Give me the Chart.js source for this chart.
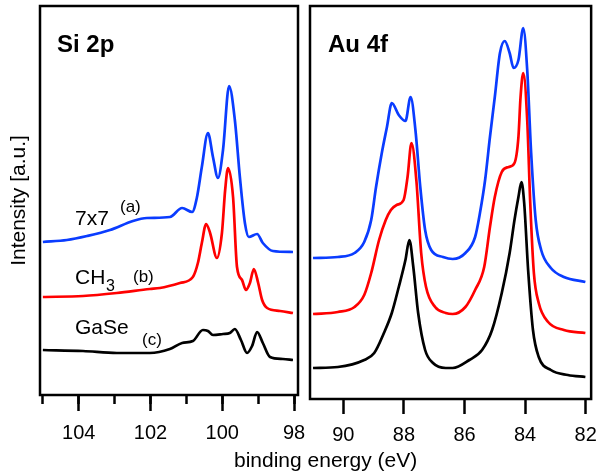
<!DOCTYPE html>
<html>
<head>
<meta charset="utf-8">
<script src="https://cdn.jsdelivr.net/npm/chart.js@4"></script>
<style>
  html, body { margin: 0; padding: 0; background: #ffffff; }
  #wrap { position: relative; width: 606px; height: 472px; }
  canvas { position: absolute; left: 0; top: 0; }
</style>
</head>
<body>
<div id="wrap">
  <canvas id="si" width="606" height="472"></canvas>
  <canvas id="au" width="606" height="472"></canvas>
</div>
<script>
// ---------- Si 2p panel (binding energy in eV, intensity in a.u.) ----------
const siEnergy7x7 = [105.00,104.33,103.77,103.13,102.49,102.10,101.46,101.12,100.84,100.71,100.57,100.40,100.26,100.12,99.98,99.81,99.65,99.51,99.37,99.26,99.03,98.87,98.59,98.03];
const si7x7       = [153,155,159,165,174,177,178,187,183,197,228,262,238,217,245,309,275,218,172,158,161,152,144,143];

const siEnergyCH3 = [105.00,103.88,102.94,102.02,101.74,101.18,100.82,100.68,100.57,100.45,100.34,100.15,100.01,99.92,99.84,99.70,99.59,99.45,99.34,99.23,99.12,99.00,98.89,98.75,98.39,98.03];
const siCH3       = [98,99,102,106,107,112,118,132,152,171,162,137,162,205,227,198,128,115,105,112,126,112,95,87,84,82];

const siEnergyGaSe = [105.00,103.88,102.94,102.02,101.46,101.12,100.82,100.54,100.40,100.26,99.98,99.79,99.65,99.48,99.31,99.17,99.03,98.87,98.67,98.31,98.03];
const siGaSe       = [45,44,42,42,46,52,54,65,64,60,61,62,66,55,42,49,63,52,38,36,35];

// ---------- Au 4f panel ----------
const auEnergy7x7 = [91.00,90.18,89.63,89.31,89.08,88.92,88.73,88.56,88.40,88.17,87.95,87.78,87.62,87.46,87.30,87.10,86.71,86.39,85.97,85.65,85.49,85.32,85.16,85.00,84.83,84.67,84.51,84.38,84.22,84.06,83.93,83.80,83.65,83.47,83.15,82.72,82.01];
const au7x7       = [141,142,146,157,179,212,246,272,296,284,278,302,269,212,169,149,142,140,146,162,186,219,262,302,346,358,346,331,339,371,329,246,179,149,131,122,117];

const auEnergyCH3 = [91.00,90.18,89.63,89.31,89.08,88.82,88.60,88.43,88.24,88.01,87.88,87.75,87.59,87.43,87.27,86.97,86.62,86.39,85.97,85.65,85.35,85.16,85.00,84.77,84.54,84.35,84.22,84.15,84.06,83.93,83.83,83.71,83.55,83.24,82.72,82.01];
const auCH3       = [85,87,92,104,126,159,179,189,194,199,222,256,219,146,112,92,86,85,92,109,132,172,202,227,232,236,262,302,326,279,196,126,96,77,69,66];

const auEnergyGaSe = [91.00,90.18,89.31,88.98,88.66,88.40,88.17,87.95,87.82,87.69,87.53,87.30,87.04,86.62,86.39,85.84,85.42,85.09,84.77,84.51,84.35,84.22,84.12,84.03,83.90,83.74,83.55,83.15,82.59,82.01];
const auGaSe       = [31,32,39,46,66,86,112,139,159,132,86,49,36,31,31,39,49,69,106,146,179,202,217,196,129,69,42,29,24,22];

// ---------- series / axis labels ----------
const seriesNames  = ['7x7', 'CH3', 'GaSe'];
const seriesColors = ['#0a3cff', '#ff0000', '#000000'];
const panelTitles  = ['Si 2p', 'Au 4f'];
const xAxisTitle   = 'binding energy (eV)';
const yAxisTitle   = 'Intensity [a.u.]';

const FONT = '"Liberation Sans", Arial, Helvetica, sans-serif';

function pts(xs, ys) { return xs.map((x, i) => ({ x: x, y: ys[i] })); }
function ds(label, xs, ys, color) {
  return {
    label: label, data: pts(xs, ys), borderColor: color, backgroundColor: color,
    borderWidth: 2.7, pointRadius: 0, cubicInterpolationMode: 'monotone', fill: false
  };
}

// frame around plot area
const framePlugin = {
  id: 'frame',
  afterDraw(chart) {
    const a = chart.chartArea, c = chart.ctx;
    c.save();
    c.strokeStyle = '#000';
    c.lineWidth = 2.5;
    c.strokeRect(a.left, a.top, a.right - a.left, a.bottom - a.top);
    c.restore();
  }
};

// text annotations (canvas pixel positions)
function textPlugin(items) {
  return {
    id: 'texts',
    afterDraw(chart) {
      const c = chart.ctx;
      c.save();
      c.fillStyle = '#000';
      c.textBaseline = 'alphabetic';
      c.textAlign = 'left';
      for (const t of items) {
        c.font = t.font;
        c.fillText(t.text, t.x, t.y);
      }
      c.restore();
    }
  };
}

const siTexts = [
  { text: panelTitles[0], x: 57, y: 52, font: 'bold 24px ' + FONT },
  { text: seriesNames[0], x: 75, y: 225, font: '21px ' + FONT },
  { text: '(a)', x: 120, y: 212, font: '17px ' + FONT },
  { text: 'CH', x: 75, y: 284, font: '21px ' + FONT },
  { text: '3', x: 106, y: 291, font: '16px ' + FONT },
  { text: '(b)', x: 133, y: 282, font: '17px ' + FONT },
  { text: seriesNames[2], x: 75, y: 334, font: '21px ' + FONT },
  { text: '(c)', x: 142, y: 345, font: '17px ' + FONT },
  { text: xAxisTitle, x: 234, y: 467, font: '21px ' + FONT }
];
const auTexts = [
  { text: panelTitles[1], x: 328, y: 52, font: 'bold 24px ' + FONT }
];

Chart.defaults.font.family = FONT;
Chart.defaults.color = '#000';

new Chart(document.getElementById('si'), {
  type: 'line',
  data: {
    datasets: [
      ds(seriesNames[0], siEnergy7x7, si7x7, seriesColors[0]),
      ds(seriesNames[1], siEnergyCH3, siCH3, seriesColors[1]),
      ds(seriesNames[2], siEnergyGaSe, siGaSe, seriesColors[2])
    ]
  },
  options: {
    responsive: false, animation: false, devicePixelRatio: 1,
    layout: { padding: { left: 0, top: 6, right: 308, bottom: 0 } },
    plugins: { legend: { display: false }, tooltip: { enabled: false } },
    scales: {
      xMinor: {
        type: 'linear', position: 'bottom', reverse: true, weight: -1,
        min: 97.89, max: 105.08,
        ticks: { display: false, stepSize: 1, includeBounds: false },
        grid: { drawOnChartArea: false, drawTicks: true, tickLength: 9, tickWidth: 2.5, tickColor: '#000' },
        border: { display: false },
        afterFit(s) { s.height = 0; }
      },
      x: {
        type: 'linear', position: 'bottom', reverse: true, weight: 0,
        min: 97.89, max: 105.08,
        ticks: { stepSize: 2, includeBounds: false, padding: 10, maxRotation: 0, autoSkip: false,
                 font: { size: 20, family: FONT }, color: '#000' },
        grid: { drawOnChartArea: false, drawTicks: true, tickLength: 16, tickWidth: 2.5, tickColor: '#000' },
        border: { display: false },
        afterFit(s) { s.height = 77; }
      },
      y: {
        type: 'linear', position: 'left', min: 0, max: 389,
        ticks: { display: false },
        grid: { display: false, drawTicks: false },
        border: { display: false },
        title: { display: true, text: yAxisTitle, color: '#000',
                 font: { size: 21, family: FONT }, padding: { top: 7, bottom: 0 } },
        afterFit(s) { s.width = 40; }
      }
    }
  },
  plugins: [framePlugin, textPlugin(siTexts)]
});

new Chart(document.getElementById('au'), {
  type: 'line',
  data: {
    datasets: [
      ds(seriesNames[0], auEnergy7x7, au7x7, seriesColors[0]),
      ds(seriesNames[1], auEnergyCH3, auCH3, seriesColors[1]),
      ds(seriesNames[2], auEnergyGaSe, auGaSe, seriesColors[2])
    ]
  },
  options: {
    responsive: false, animation: false, devicePixelRatio: 1,
    layout: { padding: { left: 310, top: 6, right: 10, bottom: 0 } },
    plugins: { legend: { display: false }, tooltip: { enabled: false } },
    scales: {
      x: {
        type: 'linear', position: 'bottom', reverse: true,
        min: 81.82, max: 91.10,
        ticks: { stepSize: 2, includeBounds: false, padding: 9, maxRotation: 0, autoSkip: false,
                 font: { size: 20, family: FONT }, color: '#000' },
        grid: { drawOnChartArea: false, drawTicks: true, tickLength: 15, tickWidth: 2.5, tickColor: '#000' },
        border: { display: false },
        afterFit(s) { s.height = 73; }
      },
      y: {
        type: 'linear', display: false, min: 0, max: 393
      }
    }
  },
  plugins: [framePlugin, textPlugin(auTexts)]
});
</script>
</body>
</html>
